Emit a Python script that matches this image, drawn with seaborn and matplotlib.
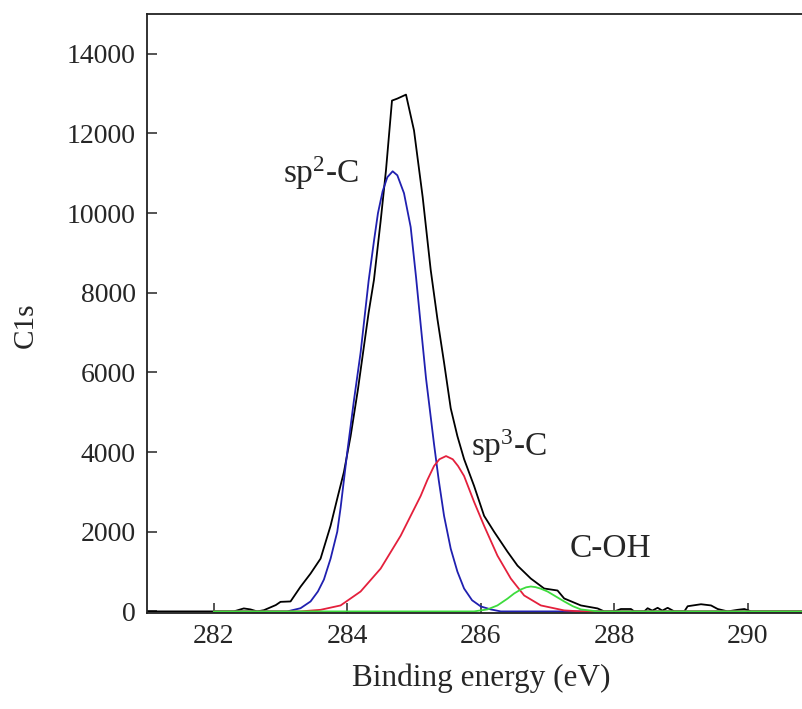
import matplotlib
matplotlib.use("Agg")
import matplotlib.pyplot as plt
import seaborn as sns
import pandas as pd

# ---- data ----
exp_x = [281.0, 282.0, 282.3, 282.45, 282.55, 282.65, 282.75, 282.93, 283.0, 283.15,
         283.3, 283.45, 283.6, 283.75, 283.86, 283.95, 284.05, 284.16, 284.32, 284.4,
         284.5, 284.58, 284.67, 284.75, 284.88, 285.0, 285.13, 285.25, 285.35, 285.45,
         285.55, 285.65, 285.75, 285.9, 286.05, 286.2, 286.4, 286.55, 286.75, 286.95,
         287.15, 287.25, 287.5, 287.75, 287.85, 288.0, 288.1, 288.25, 288.3, 288.45,
         288.5, 288.57, 288.65, 288.72, 288.8, 288.9, 289.05, 289.1, 289.3, 289.45,
         289.55, 289.7, 289.85, 289.95, 290.05, 290.3, 291.0]
exp_y = [0, 0, 0, 75, 50, 0, 30, 160, 240, 250,
         620, 950, 1325, 2150, 2900, 3500, 4400, 5575, 7500, 8325,
         9800, 11075, 12825, 12875, 12975, 12075, 10400, 8575, 7350, 6250,
         5100, 4400, 3825, 3150, 2400, 2000, 1500, 1150, 825, 575,
         525, 325, 150, 75, 0, 0, 60, 60, 0, 0,
         80, 20, 90, 20, 90, 0, 0, 130, 180, 150,
         60, 0, 40, 60, 0, 0, 0]

sp2_x = [282.0, 283.1, 283.3, 283.45, 283.56, 283.65, 283.75, 283.85, 283.9, 283.95,
         284.0, 284.1, 284.2, 284.32, 284.4, 284.46, 284.53, 284.6, 284.68, 284.75,
         284.85, 284.95, 285.03, 285.1, 285.18, 285.3, 285.37, 285.45, 285.55, 285.65,
         285.75, 285.87, 286.0, 286.15, 286.3, 291.0]
sp2_y = [0, 0, 80, 250, 500, 800, 1325, 2000, 2600, 3300,
         4000, 5300, 6500, 8300, 9300, 10000, 10550, 10900, 11050, 10950,
         10500, 9650, 8400, 7200, 5850, 4200, 3300, 2400, 1575, 1000,
         575, 280, 125, 50, 0, 0]

sp3_x = [282.0, 283.3, 283.6, 283.9, 284.2, 284.5, 284.8, 285.1, 285.2, 285.3,
         285.38, 285.48, 285.58, 285.66, 285.75, 285.9, 286.05, 286.25, 286.45, 286.65,
         286.9, 287.25, 287.5, 291.0]
sp3_y = [0, 0, 40, 150, 500, 1075, 1900, 2900, 3300, 3650,
         3820, 3900, 3820, 3650, 3400, 2750, 2150, 1400, 825, 400,
         150, 25, 0, 0]

coh_x = [282.0, 285.9, 286.1, 286.25, 286.4, 286.5, 286.6, 286.68, 286.75, 286.82,
         286.9, 287.0, 287.12, 287.25, 287.38, 287.5, 287.75, 291.0]
coh_y = [0, 0, 50, 150, 320, 450, 550, 605, 625, 610,
         570, 500, 380, 250, 130, 50, 0, 0]

x_ticks = [282, 284, 286, 288, 290]
y_ticks = [0, 2000, 4000, 6000, 8000, 10000, 12000, 14000]

labels = [("sp$^{2}$-C", 283.6, 11000), ("sp$^{3}$-C", 286.42, 4150), ("C-OH", 287.95, 1575)]

# ---- style ----
sns.set_theme(style="ticks")
plt.rcParams["font.family"] = ["Liberation Serif", "DejaVu Serif"]
plt.rcParams["mathtext.fontset"] = "custom"
plt.rcParams["mathtext.rm"] = "Liberation Serif"
plt.rcParams["mathtext.it"] = "Liberation Serif"

fig = plt.figure(figsize=(8.03, 7.09), dpi=100)
ax = fig.add_axes([0.1831, 0.1354, 0.8312, 0.8449])

series = [
    (exp_x, exp_y, "#000000"),
    (sp2_x, sp2_y, "#2020b0"),
    (sp3_x, sp3_y, "#e4203c"),
    (coh_x, coh_y, "#3ddc3d"),
]
for xs, ys, col in series:
    df = pd.DataFrame({"x": xs, "y": ys})
    sns.lineplot(data=df, x="x", y="y", ax=ax, color=col, linewidth=1.3,
                 sort=False, estimator=None)

ax.set_xlim(281, 291)
ax.set_ylim(-40, 15000)
ax.set_xticks(x_ticks)
ax.set_yticks(y_ticks)
ax.tick_params(direction="in", length=7, width=1.1, labelsize=20, pad=8)
for s in ax.spines.values():
    s.set_linewidth(1.3)
    s.set_color("#222222")
ax.set_xlabel("Binding energy (eV)", fontsize=22.5, labelpad=10)
ax.set_ylabel("C1s", fontsize=21)
ax.yaxis.set_label_coords(-0.162, 0.48)

for txt, lx, ly in labels:
    ax.text(lx, ly, txt, fontsize=24, ha="center", va="center")

fig.savefig("out.png", dpi=100)
